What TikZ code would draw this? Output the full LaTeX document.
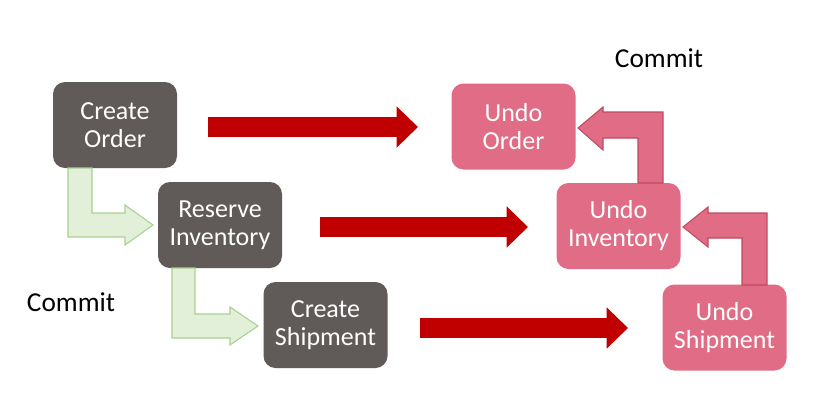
\documentclass[tikz,border=0pt]{standalone}
\usepackage{fontspec}
\setmainfont{Carlito}
\usetikzlibrary{arrows.meta}
\definecolor{boxgray}{HTML}{605A59}
\definecolor{boxpink}{HTML}{E06C86}
\definecolor{pinkedge}{HTML}{C24A60}
\definecolor{darkred}{HTML}{C00000}
\definecolor{greenfill}{HTML}{E2F0D9}
\definecolor{greenedge}{HTML}{A9D18E}
\tikzset{
  stepbox/.style={rounded corners=9pt, minimum width=93pt, minimum height=64.5pt,
    align=center, text=white, font=\fontsize{19.5}{21}\selectfont, inner sep=0pt},
  dobox/.style={stepbox, fill=boxgray},
  undobox/.style={stepbox, fill=boxpink},
  redarrow/.style={draw=darkred, line width=15.5pt,
    -{Triangle[length=16pt, width=30pt]}},
  greenarrow/.style={fill=greenfill, draw=greenedge, line width=0.8pt},
  pinkarrow/.style={fill=boxpink, draw=pinkedge, line width=0.8pt},
  lbl/.style={font=\fontsize{20.5}{24}\selectfont, text=black}
}
\begin{document}
\begin{tikzpicture}[x=0.75pt, y=-0.75pt]
\useasboundingbox (0,0) rectangle (819,408);
\fill[white] (0,0) rectangle (819,408);
% nodes
\node[dobox] (co) at (115,125) {Create\\Order};
\node[dobox] (ri) at (220,225) {Reserve\\Inventory};
\node[dobox] (cs) at (325.5,325) {Create\\Shipment};
\node[undobox] (uo) at (513.5,126.5) {Undo\\Order};
\node[undobox] (ui) at (618.5,226) {Undo\\Inventory};
\node[undobox] (us) at (724.5,327.5) {Undo\\Shipment};
\node[lbl] (c1) at (659,58) {Commit};
\node[lbl] (c2) at (71,302) {Commit};
% red arrows
\coordinate (a1s) at (208,127); \coordinate (a1e) at (418,127);
\coordinate (a2s) at (320,227); \coordinate (a2e) at (528,227);
\coordinate (a3s) at (420,328); \coordinate (a3e) at (628,328);
\draw[redarrow] (a1s) -- (a1e);
\draw[redarrow] (a2s) -- (a2e);
\draw[redarrow] (a3s) -- (a3e);
% green elbow arrows
\draw[greenarrow] (68,168) -- (92,168) -- (92,213) -- (125,213) -- (125,205)
  -- (153,225) -- (125,245) -- (125,237) -- (68,237) -- cycle;
\draw[greenarrow] (172,268) -- (195,268) -- (195,314) -- (230,314) -- (230,307)
  -- (258,326) -- (230,345) -- (230,338) -- (172,338) -- cycle;
% pink elbow arrows
\draw[pinkarrow] (638,183) -- (663,183) -- (663,112) -- (603,112) -- (603,107)
  -- (578,128) -- (603,150) -- (603,138) -- (638,138) -- cycle;
\draw[pinkarrow] (742,285) -- (767,285) -- (767,213) -- (708,213) -- (708,207)
  -- (683,227) -- (708,247) -- (708,238) -- (742,238) -- cycle;
\end{tikzpicture}
\end{document}
